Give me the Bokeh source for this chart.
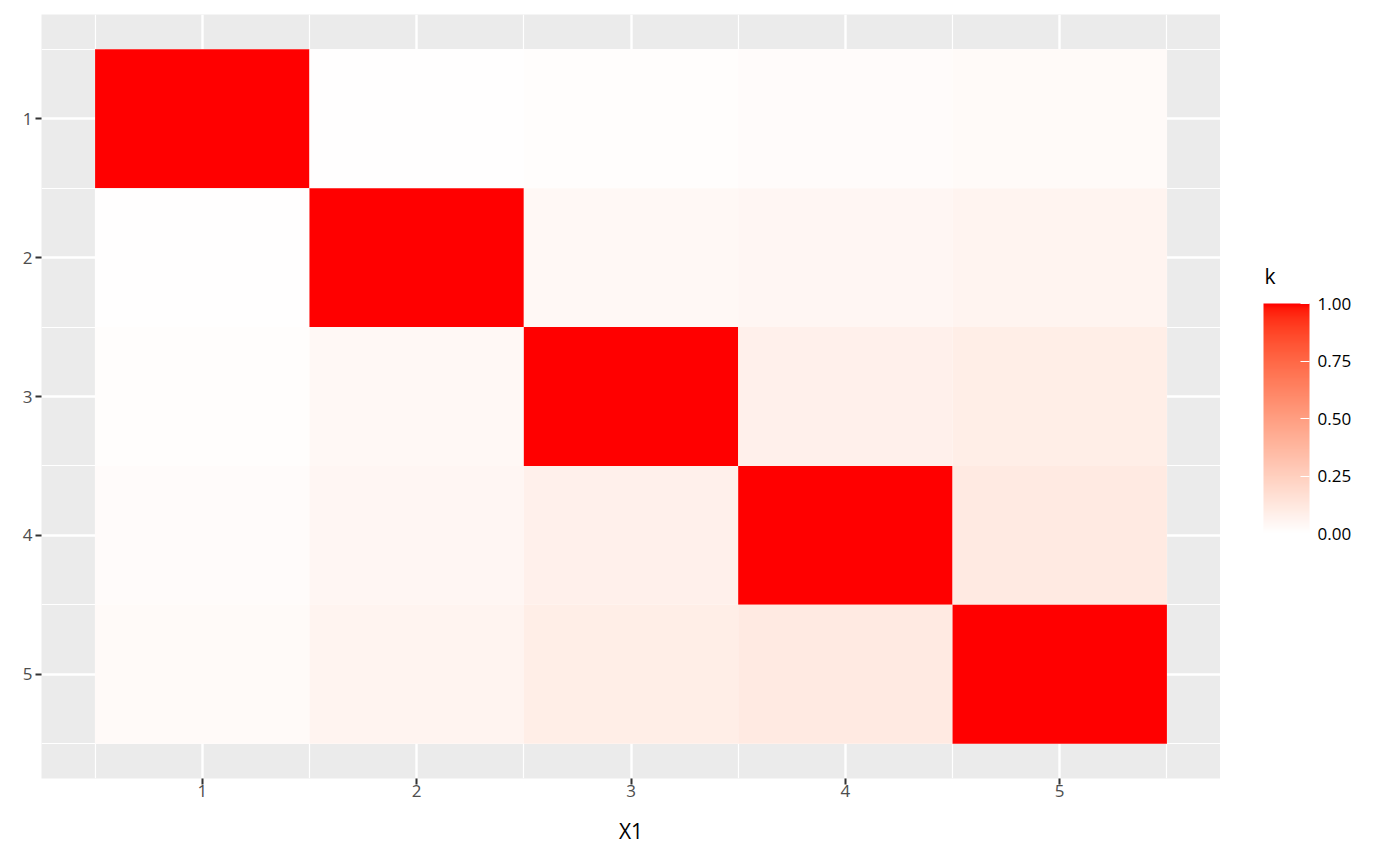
import numpy as np
from bokeh.plotting import figure
from bokeh.layouts import row
from bokeh.models import (ColumnDataSource, LinearColorMapper, ColorBar, FixedTicker,
                          Range1d, PrintfTickFormatter)
from bokeh.core.properties import value
from bokeh.transform import transform
from bokeh.embed import file_html
from bokeh.resources import INLINE

# ---- data ----
x_vals = [1, 2, 3, 4, 5]
y_vals = [1, 2, 3, 4, 5]
k_row1 = [1.000, 0.005, 0.015, 0.020, 0.030]
k_row2 = [0.005, 1.000, 0.040, 0.050, 0.060]
k_row3 = [0.015, 0.040, 1.000, 0.080, 0.090]
k_row4 = [0.020, 0.050, 0.080, 1.000, 0.110]
k_row5 = [0.030, 0.060, 0.090, 0.110, 1.000]
k_rows = [k_row1, k_row2, k_row3, k_row4, k_row5]
legend_ticks = [0.0, 0.25, 0.5, 0.75, 1.0]
legend_title = "k"
x_title = "X1"

xs, ys, ks = [], [], []
for yi, r in zip(y_vals, k_rows):
    for xi, kv in zip(x_vals, r):
        xs.append(xi); ys.append(yi); ks.append(kv)
src = ColumnDataSource(dict(x=xs, y=ys, k=ks))

# ---- Lab interpolated white -> red palette (as ggplot2 scale_fill_gradient) ----
def _to_lin(c):
    c = c / 255.0
    return np.where(c <= 0.04045, c / 12.92, ((c + 0.055) / 1.055) ** 2.4)

def _from_lin(c):
    c = np.where(c <= 0.0031308, 12.92 * c, 1.055 * np.power(np.clip(c, 0, None), 1 / 2.4) - 0.055)
    return np.clip(np.round(c * 255), 0, 255).astype(int)

WX, WY, WZ = 0.95047, 1.0, 1.08883

def rgb_to_lab(rgb):
    r, g, b = _to_lin(np.array(rgb, dtype=float))
    X = 0.4124 * r + 0.3576 * g + 0.1805 * b
    Y = 0.2126 * r + 0.7152 * g + 0.0722 * b
    Z = 0.0193 * r + 0.1192 * g + 0.9505 * b
    def f(t):
        return np.where(t > 216 / 24389, np.cbrt(t), (24389 / 27 * t + 16) / 116)
    fx, fy, fz = f(X / WX), f(Y / WY), f(Z / WZ)
    return np.array([116 * fy - 16, 500 * (fx - fy), 200 * (fy - fz)])

def lab_to_hex(lab):
    L, a, b = lab
    fy = (L + 16) / 116
    fx = fy + a / 500
    fz = fy - b / 200
    def finv(t):
        return t ** 3 if t ** 3 > 216 / 24389 else (116 * t - 16) / (24389 / 27)
    X, Y, Z = finv(fx) * WX, finv(fy) * WY, finv(fz) * WZ
    r = 3.2406 * X - 1.5372 * Y - 0.4986 * Z
    g = -0.9689 * X + 1.8758 * Y + 0.0415 * Z
    bb = 0.0557 * X - 0.2040 * Y + 1.0570 * Z
    R, G, B = _from_lin(np.array([r, g, bb]))
    return "#%02x%02x%02x" % (R, G, B)

lab_low = rgb_to_lab((255, 255, 255))
lab_high = rgb_to_lab((255, 0, 0))
palette = [lab_to_hex(lab_low + (lab_high - lab_low) * t) for t in np.linspace(0, 1, 256)]

mapper = LinearColorMapper(palette=palette, low=0, high=1)

FONT = "Open Sans"
FW, FH = 1179, 764

p = figure(frame_width=FW, frame_height=FH,
           x_range=Range1d(0.25, 5.75), y_range=Range1d(5.75, 0.25),
           output_backend="svg", toolbar_location=None,
           min_border_left=41, min_border_top=14, min_border_bottom=80, min_border_right=0,
           background_fill_color="#EBEBEB", border_fill_color="white")
p.outline_line_color = None

p.rect(x="x", y="y", width=1, height=1, source=src,
       fill_color=transform("k", mapper), line_color=None)

ticker = FixedTicker(ticks=x_vals, minor_ticks=[0.5, 1.5, 2.5, 3.5, 4.5, 5.5])
for ax in (p.xaxis[0], p.yaxis[0]):
    ax.ticker = ticker
    ax.axis_line_color = None
    ax.major_tick_line_color = "#333333"
    ax.major_tick_line_width = 2
    ax.major_tick_out = 6
    ax.major_tick_in = 0
    ax.minor_tick_line_color = None
    ax.major_label_text_font = FONT
    ax.major_label_text_font_size = "17px"
    ax.major_label_text_color = "#4D4D4D"
    ax.major_label_standoff = 3
p.xaxis.major_label_standoff = 0

p.xaxis.axis_label = x_title
p.xaxis.axis_label_text_font = FONT
p.xaxis.axis_label_text_font_size = "21px"
p.xaxis.axis_label_text_font_style = "normal"
p.xaxis.axis_label_text_color = "black"
p.xaxis.axis_label_standoff = 17

for g in (p.xgrid[0], p.ygrid[0]):
    g.ticker = ticker
    g.grid_line_color = "white"
    g.grid_line_width = 2.4
    g.minor_grid_line_color = "white"
    g.minor_grid_line_width = 1.2

# ---- legend panel (frame aligned with the main frame, 1 unit = 1 px) ----
LW = 164
leg = figure(frame_width=LW, frame_height=FH, x_range=Range1d(0, LW), y_range=Range1d(0, FH),
             output_backend="svg", toolbar_location=None,
             min_border_left=0, min_border_right=0, min_border_top=14, min_border_bottom=80,
             background_fill_color="white", border_fill_color="white")
leg.outline_line_color = None
leg.axis.visible = False
leg.grid.visible = False

leg.text(x=[44], y=[FH - 283 + 14 + 8], text=[legend_title], text_font=value(FONT),
         text_font_size="21px", text_color="black", text_baseline="alphabetic",
         text_align="left")

cb = ColorBar(color_mapper=mapper, width=46, height=230,
              ticker=FixedTicker(ticks=legend_ticks),
              formatter=PrintfTickFormatter(format="%.2f"),
              major_label_text_font=FONT, major_label_text_font_size="17px",
              major_label_text_color="black", label_standoff=8,
              major_tick_line_color="white", major_tick_in=9, major_tick_out=0,
              minor_tick_line_color=None, bar_line_color=None,
              padding=0, margin=0, location=(43, FH + 14 - 533),
              background_fill_color=None, border_line_color=None)
leg.add_layout(cb, "center")

layout = row(p, leg, spacing=0)
open("out.html", "w").write(file_html(layout, INLINE))
